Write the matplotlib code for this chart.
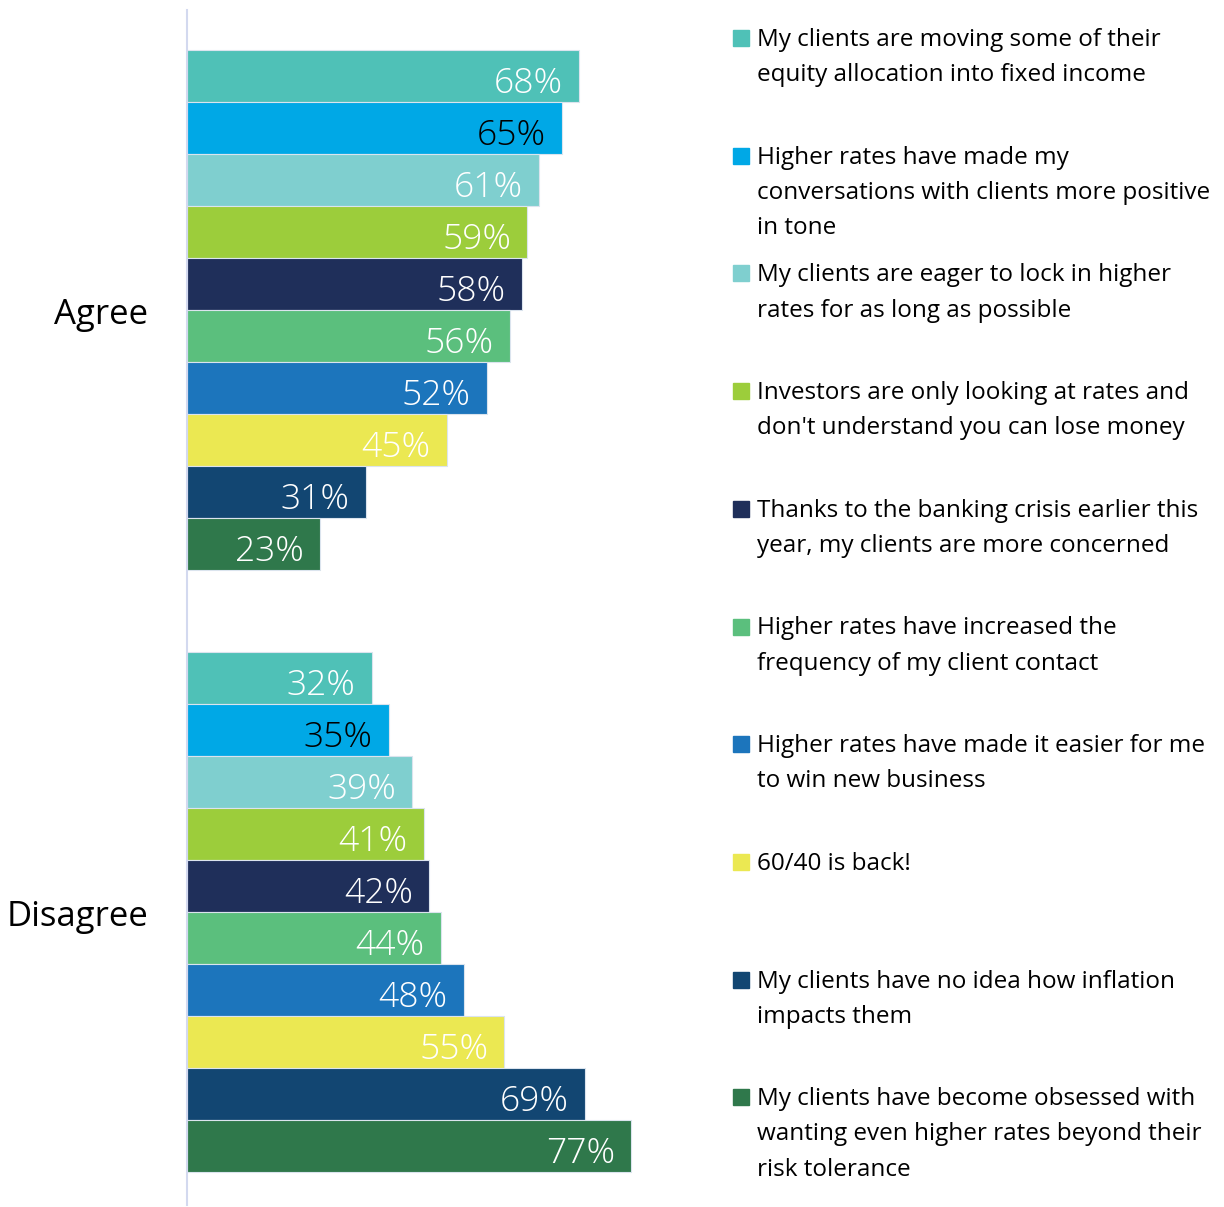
import matplotlib.pyplot as plt
from matplotlib.patches import Rectangle

plt.rcParams["font.family"] = ["Open Sans", "DejaVu Sans"]

groups = ["Agree", "Disagree"]
statements = [
    "My clients are moving some of their\nequity allocation into fixed income",
    "Higher rates have made my\nconversations with clients more positive\nin tone",
    "My clients are eager to lock in higher\nrates for as long as possible",
    "Investors are only looking at rates and\ndon't understand you can lose money",
    "Thanks to the banking crisis earlier this\nyear, my clients are more concerned",
    "Higher rates have increased the\nfrequency of my client contact",
    "Higher rates have made it easier for me\nto win new business",
    "60/40 is back!",
    "My clients have no idea how inflation\nimpacts them",
    "My clients have become obsessed with\nwanting even higher rates beyond their\nrisk tolerance",
]
agree = [68, 65, 61, 59, 58, 56, 52, 45, 31, 23]
disagree = [32, 35, 39, 41, 42, 44, 48, 55, 69, 77]
colors = ["#4fc1b7", "#00a8e6", "#7fcfcf", "#9ccd3b", "#1f2f5a",
          "#5bbf7d", "#1c75bc", "#ebe852", "#124672", "#2f784b"]
label_colors = ["white", "black", "white", "white", "white",
                "white", "white", "white", "white", "white"]

W, H = 1224, 1207
fig = plt.figure(figsize=(W / 100, H / 100), dpi=100)

# axes spans from the spine at x=187 down the full height
ax = fig.add_axes([187 / W, 2 / H, 520 / W, (1197 - 2) / H])
px_per_unit = 52.0
group_gap = 602 / px_per_unit

for g, vals in enumerate([agree, disagree]):
    for i, v in enumerate(vals):
        y = g * group_gap + i
        ax.barh(y, v, height=1.0, color=colors[i], edgecolor="#dbe4ee", linewidth=0.8)
        ax.text(v - 2.8, y + 0.14, f"{v}%", ha="right", va="center",
                fontsize=25.5, color=label_colors[i], fontweight="light")
    mid = g * group_gap + (len(vals) - 1) / 2
    ax.text(-6.7, mid + 0.1, groups[g], ha="right", va="center", fontsize=25, color="black")

top = -0.5 - 40 / px_per_unit
bottom = top + 1195 / px_per_unit
ax.set_ylim(bottom, top)
ax.set_xlim(0, 520 / 5.77)

for side in ["top", "right", "bottom"]:
    ax.spines[side].set_visible(False)
ax.spines["left"].set_color("#d3d9ef")
ax.spines["left"].set_linewidth(1.5)
ax.set_xticks([])
ax.set_yticks([])

# legend column on the right
y0 = 38
step = 117.7
for i, (txt, c) in enumerate(zip(statements, colors)):
    yc = y0 + i * step
    fig.patches.append(Rectangle(((733) / W, 1 - (yc + 8) / H), 16 / W, 16 / H,
                                 transform=fig.transFigure, color=c))
    fig.text(757 / W, 1 - (yc - 10) / H, txt, ha="left", va="top",
             fontsize=17.5, color="black", linespacing=1.62)

fig.savefig("out.png", dpi=100)
